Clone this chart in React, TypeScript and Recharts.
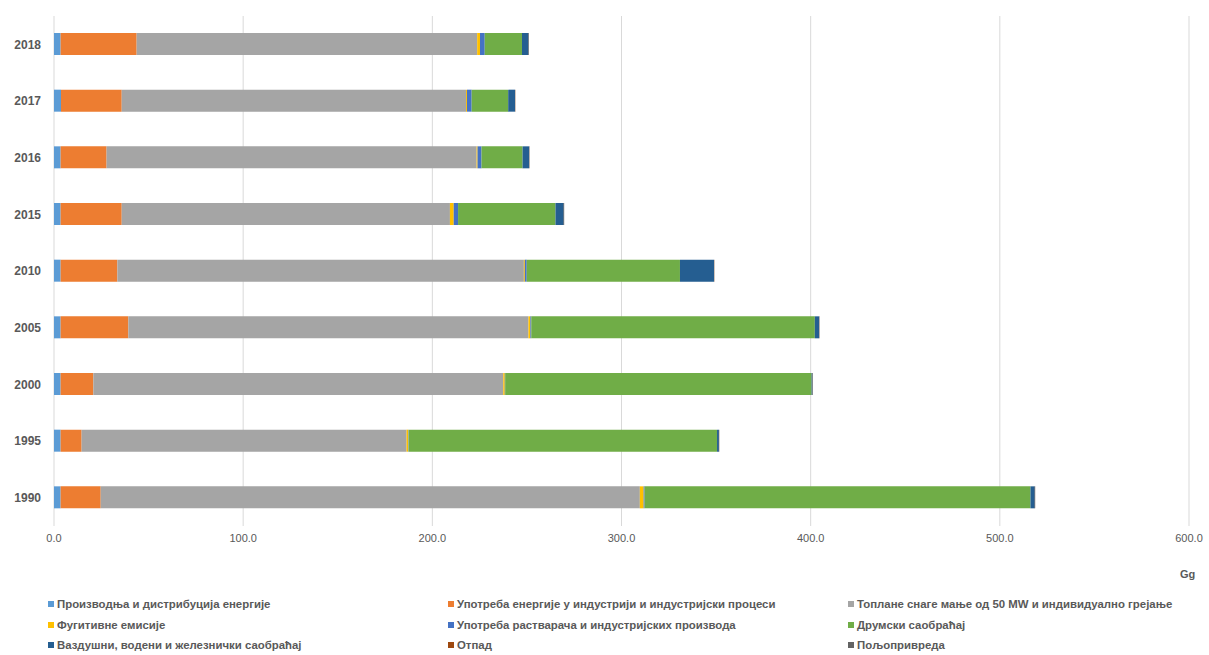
import React from 'react';
import { BarChart, Bar, XAxis, YAxis, CartesianGrid } from 'recharts';

// Years, top to bottom as in the source chart
const years = ['2018', '2017', '2016', '2015', '2010', '2005', '2000', '1995', '1990'];

// Emissions per sector, Gg (same order as years)
const energyProduction = [3.5, 3.7, 3.5, 3.5, 3.5, 3.5, 3.5, 3.5, 3.5];
const industryEnergy = [40.2, 32.1, 24.3, 32.3, 30.0, 35.8, 17.3, 11.1, 21.2];
const smallHeating = [180.0, 182.0, 195.6, 173.5, 214.9, 211.5, 216.7, 171.8, 285.0];
const fugitive = [1.5, 0.5, 0.5, 2.0, 0.5, 1.0, 0.8, 0.9, 2.0];
const solvents = [2.5, 2.5, 2.1, 2.3, 1.0, 0.5, 0.2, 0.2, 0.5];
const roadTransport = [19.7, 19.3, 21.7, 51.5, 81.0, 149.9, 162.0, 163.0, 204.0];
const otherTransport = [3.5, 3.6, 3.5, 4.4, 18.0, 2.3, 0.5, 1.0, 2.3];
const waste = [0.1, 0.1, 0.1, 0.1, 0.1, 0.1, 0.1, 0.1, 0.1];
const agriculture = [0.1, 0.1, 0.1, 0.1, 0.1, 0.1, 0.1, 0.1, 0.1];

const xTicks = [0, 100, 200, 300, 400, 500, 600];

const series = [
  { key: 'energyProduction', name: 'Производња и дистрибуција енергије', color: '#5B9BD5', values: energyProduction },
  { key: 'industryEnergy', name: 'Употреба енергије у индустрији и индустријски процеси', color: '#ED7D31', values: industryEnergy },
  { key: 'smallHeating', name: 'Топлане снаге мање од 50 MW и индивидуално грејање', color: '#A5A5A5', values: smallHeating },
  { key: 'fugitive', name: 'Фугитивне емисије', color: '#FFC000', values: fugitive },
  { key: 'solvents', name: 'Употреба растварача и индустријских производа', color: '#4472C4', values: solvents },
  { key: 'roadTransport', name: 'Друмски саобраћај', color: '#70AD47', values: roadTransport },
  { key: 'otherTransport', name: 'Ваздушни, водени и железнички саобраћај', color: '#255E91', values: otherTransport },
  { key: 'waste', name: 'Отпад', color: '#9E480E', values: waste },
  { key: 'agriculture', name: 'Пољопривреда', color: '#636363', values: agriculture },
];

const data = years.map((year, i) => {
  const row: Record<string, string | number> = { year };
  series.forEach(s => { row[s.key] = s.values[i]; });
  return row;
});

const FONT = '"Liberation Sans", Arial, sans-serif';
const TEXT = '#595959';

export default function App() {
  return (
    <div style={{ position: 'absolute', left: 0, top: 0, width: 1209, height: 655, background: '#fff', fontFamily: FONT }}>
      <BarChart
        width={1209}
        height={560}
        data={data}
        layout="vertical"
        margin={{ top: 16, right: 20, left: 0, bottom: 4 }}
      >
        <CartesianGrid horizontal={false} stroke="#D9D9D9" />
        <XAxis
          type="number"
          domain={[0, 600]}
          ticks={xTicks}
          tickFormatter={(v: number) => v.toFixed(1)}
          axisLine={false}
          tickLine={false}
          height={30}
          tick={{ fontSize: 11, fill: TEXT, fontFamily: FONT }}
        />
        <YAxis
          type="category"
          dataKey="year"
          width={54}
          axisLine={false}
          tickLine={false}
          tick={{ fontSize: 12, fill: TEXT, fontWeight: 'bold', fontFamily: FONT, dx: -5 }}
        />
        {series.map(s => (
          <Bar key={s.key} dataKey={s.key} name={s.name} stackId="a" fill={s.color} barSize={22} isAnimationActive={false} />
        ))}
      </BarChart>
      <div style={{ position: 'absolute', left: 1180, top: 568, fontSize: 11, fontWeight: 'bold', color: TEXT }}>Gg</div>
      <div
        style={{
          position: 'absolute',
          left: 48,
          top: 596,
          display: 'grid',
          gridTemplateColumns: '400px 400px 360px',
          rowGap: 4,
          fontSize: 11.4,
          fontWeight: 'bold',
          color: TEXT,
        }}
      >
        {series.map(s => (
          <div key={s.key} style={{ display: 'flex', alignItems: 'center', height: 16.5, whiteSpace: 'nowrap' }}>
            <span style={{ width: 6, height: 6, background: s.color, marginRight: 3, display: 'inline-block' }} />
            {s.name}
          </div>
        ))}
      </div>
    </div>
  );
}
